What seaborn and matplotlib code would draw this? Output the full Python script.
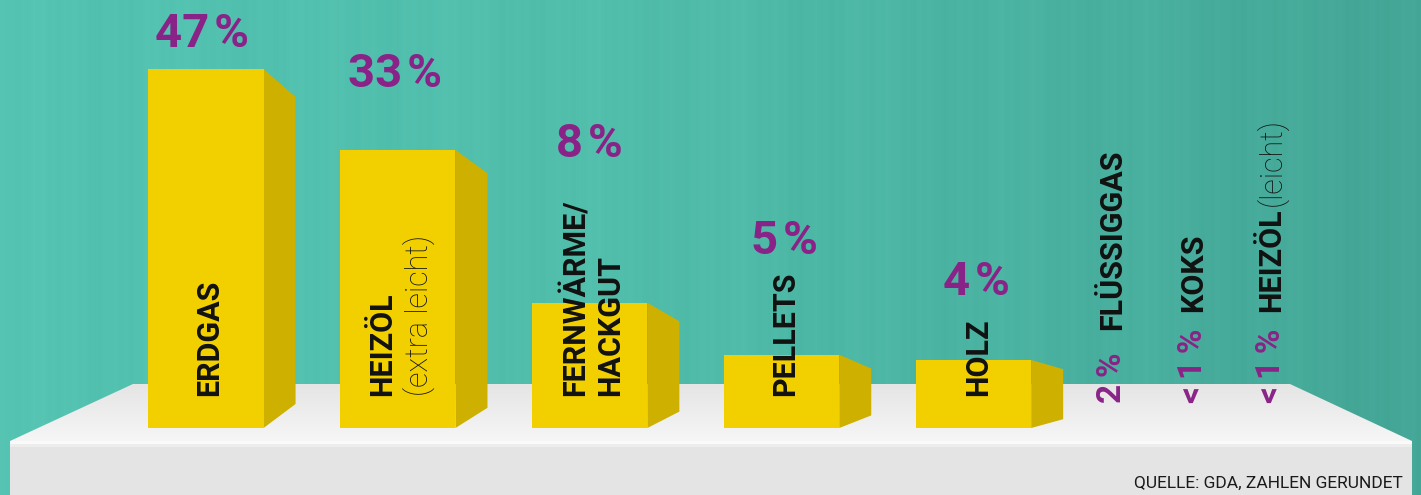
import numpy as np
import pandas as pd
import matplotlib
matplotlib.use("Agg")
import matplotlib.pyplot as plt
import seaborn as sns
from matplotlib.patches import Polygon, Rectangle

# ---------------- data ----------------
categories = ["ERDGAS", "HEIZÖL", "FERNWÄRME", "PELLETS", "HOLZ"]
share_labels = ["47\u200a%", "33\u200a%", "8\u200a%", "5\u200a%", "4\u200a%"]
# drawn bar heights (visual units, ERDGAS = 47)
bar_heights = [47.0, 36.4, 16.4, 9.6, 8.9]
bar_label_lines = [["ERDGAS"], ["HEIZÖL", "(extra leicht)"], ["FERNWÄRME/", "HACKGUT"],
                   ["PELLETS"], ["HOLZ"]]
bar_label_weights = [["bold"], ["bold", "light"], ["bold", "bold"], ["bold"], ["bold"]]

small_categories = ["FLÜSSIGGAS", "KOKS", "HEIZÖL"]
small_suffix = ["", "", "(leicht)"]
small_labels = ["2\u2009%", "<\u20091\u2009%", "<\u20091\u2009%"]
source = "QUELLE: GDA, ZAHLEN GERUNDET"

# ---------------- style / layout ----------------
W, H = 1421, 495
YELLOW = "#F2D000"
YELLOW_SIDE = "#CDB000"
PURPLE = "#8A2387"
BLACK = "#111111"
PX_PER_UNIT = 359 / 47.0
BASE_Y = 428          # image row of the bar bottoms
FIRST_X = 206         # image column of first bar centre
STEP = 191.9          # px between bar centres

sns.set_theme(style="white")
plt.rcParams["font.family"] = ["Roboto", "DejaVu Sans"]

fig = plt.figure(figsize=(W / 100, H / 100), dpi=100)

# background axes in image pixel coordinates
bg = fig.add_axes([0, 0, 1, 1])
bg.set_xlim(0, W)
bg.set_ylim(H, 0)
bg.axis("off")

xs = np.arange(W)
stops_x = [0, 600, 1000, 1421]
stops_c = np.array([[84, 195, 178], [81, 190, 171], [75, 179, 162], [68, 166, 150]], float)
cols = np.stack([np.interp(xs, stops_x, stops_c[:, k]) for k in range(3)], axis=1)
streak = 1.2 * np.sin(xs * 0.045) + 0.9 * np.sin(xs * 0.17 + 1.3) + 0.7 * np.sin(xs * 0.61 + 0.4)
cols = cols + streak[:, None]
img = np.clip(np.repeat(cols[None, :, :], H, axis=0) / 255.0, 0, 1)
bg.imshow(img, extent=(0, W, H, 0), aspect="auto", zorder=0, interpolation="bilinear")

# shelf top surface (gradient clipped to polygon)
top_poly = Polygon([(133, 384), (1290, 384), (1412, 441), (10, 441)], closed=True,
                   facecolor="none", edgecolor="none", transform=bg.transData)
bg.add_patch(top_poly)
ys = np.linspace(0, 1, 60)
tc = np.array([229, 229, 229]) * (1 - ys[:, None]) + np.array([246, 246, 246]) * ys[:, None]
timg = np.repeat(tc[:, None, :], 4, axis=1) / 255.0
im2 = bg.imshow(timg, extent=(0, W, 441, 384), aspect="auto", zorder=1, interpolation="bilinear")
im2.set_clip_path(top_poly)

# shelf front face
bg.add_patch(Rectangle((10, 441), 1402, 60, facecolor="#E4E4E4", edgecolor="none", zorder=2))
bg.add_patch(Rectangle((10, 441), 1402, 3, facecolor="#FAFAFA", edgecolor="none", zorder=3))
bg.add_patch(Rectangle((10, 444), 1402, 3, facecolor="#EDEDED", edgecolor="none", zorder=3))

# ---------------- bars ----------------
ax = fig.add_axes([0, 0, 1, 1])
ax.patch.set_alpha(0)
df = pd.DataFrame({"category": categories, "height": bar_heights})
sns.barplot(data=df, x="category", y="height", order=categories, color=YELLOW,
            saturation=1, width=0.6, edgecolor="none", linewidth=0, ax=ax, zorder=3)
ax.set_xlim(-FIRST_X / STEP, (W - FIRST_X) / STEP)
ax.set_ylim(-(H - BASE_Y) / PX_PER_UNIT, BASE_Y / PX_PER_UNIT)
ax.axis("off")

to_img = lambda x, y: (ax.transData.transform((x, y))[0], H - ax.transData.transform((x, y))[1])
inv = ax.transData.inverted()

centres = []
for p in list(ax.patches):
    x0, w, h = p.get_x(), p.get_width(), p.get_height()
    xr, ytop = to_img(x0 + w, h)
    _, ybot = to_img(x0 + w, 0)
    cx, _ = to_img(x0 + w / 2, 0)
    centres.append((cx, ytop))
    d_top = 28 - 0.0245 * (xr - 264)
    d_bot = 24 - 0.0198 * (xr - 264)
    depth = 32
    pts_img = [(xr, ytop), (xr + depth, ytop + d_top), (xr + depth, ybot - d_bot), (xr, ybot)]
    pts = [inv.transform((px, H - py)) for px, py in pts_img]
    ax.add_patch(Polygon(pts, closed=True, facecolor=YELLOW_SIDE, edgecolor="none", zorder=2.5))

# percent labels above bars
pct_dx = [-4, -3, 0, 3, 2.5]
pct_baseline = [47, 87, 157, 254, 295]
for (cx, _), lab, dx, by in zip(centres, share_labels, pct_dx, pct_baseline):
    ax.text(cx + dx, by, lab, transform=bg.transData, ha="center", va="baseline",
            fontsize=34, fontweight="bold", color=PURPLE, zorder=6)

# vertical category labels inside bars
label_dx = [[12], [-7, 30], [-5.5, 29.5], [12.5], [13.5]]
for (cx, _), lines, wts, dxs in zip(centres, bar_label_lines, bar_label_weights, label_dx):
    for line, wt, dx in zip(lines, wts, dxs):
        ax.text(cx + dx, 396, line, transform=bg.transData, rotation=90,
                rotation_mode="anchor", ha="left", va="baseline",
                fontsize=22, fontweight=wt, color=BLACK, zorder=6)

# small categories (text only)
small_x = [1121, 1202, 1280]
name_start = [330, 312, 312]
suffix_start = [0, 0, 206]
for sx, cat, suf, lab, ns, ss in zip(small_x, small_categories, small_suffix, small_labels,
                                     name_start, suffix_start):
    ax.text(sx, 403, lab, transform=bg.transData, rotation=90, rotation_mode="anchor",
            ha="left", va="baseline", fontsize=24, fontweight="bold", color=PURPLE, zorder=6)
    ax.text(sx, ns, cat, transform=bg.transData, rotation=90, rotation_mode="anchor",
            ha="left", va="baseline", fontsize=22, fontweight="bold", color=BLACK, zorder=6)
    if suf:
        ax.text(sx, ss, suf, transform=bg.transData, rotation=90, rotation_mode="anchor",
                ha="left", va="baseline", fontsize=22, fontweight="light", color=BLACK, zorder=6)

ax.text(1403, 488, source, transform=bg.transData, ha="right", va="baseline",
        fontsize=12.5, color="#1A1A1A", zorder=6)

fig.savefig("out.png", dpi=100)
